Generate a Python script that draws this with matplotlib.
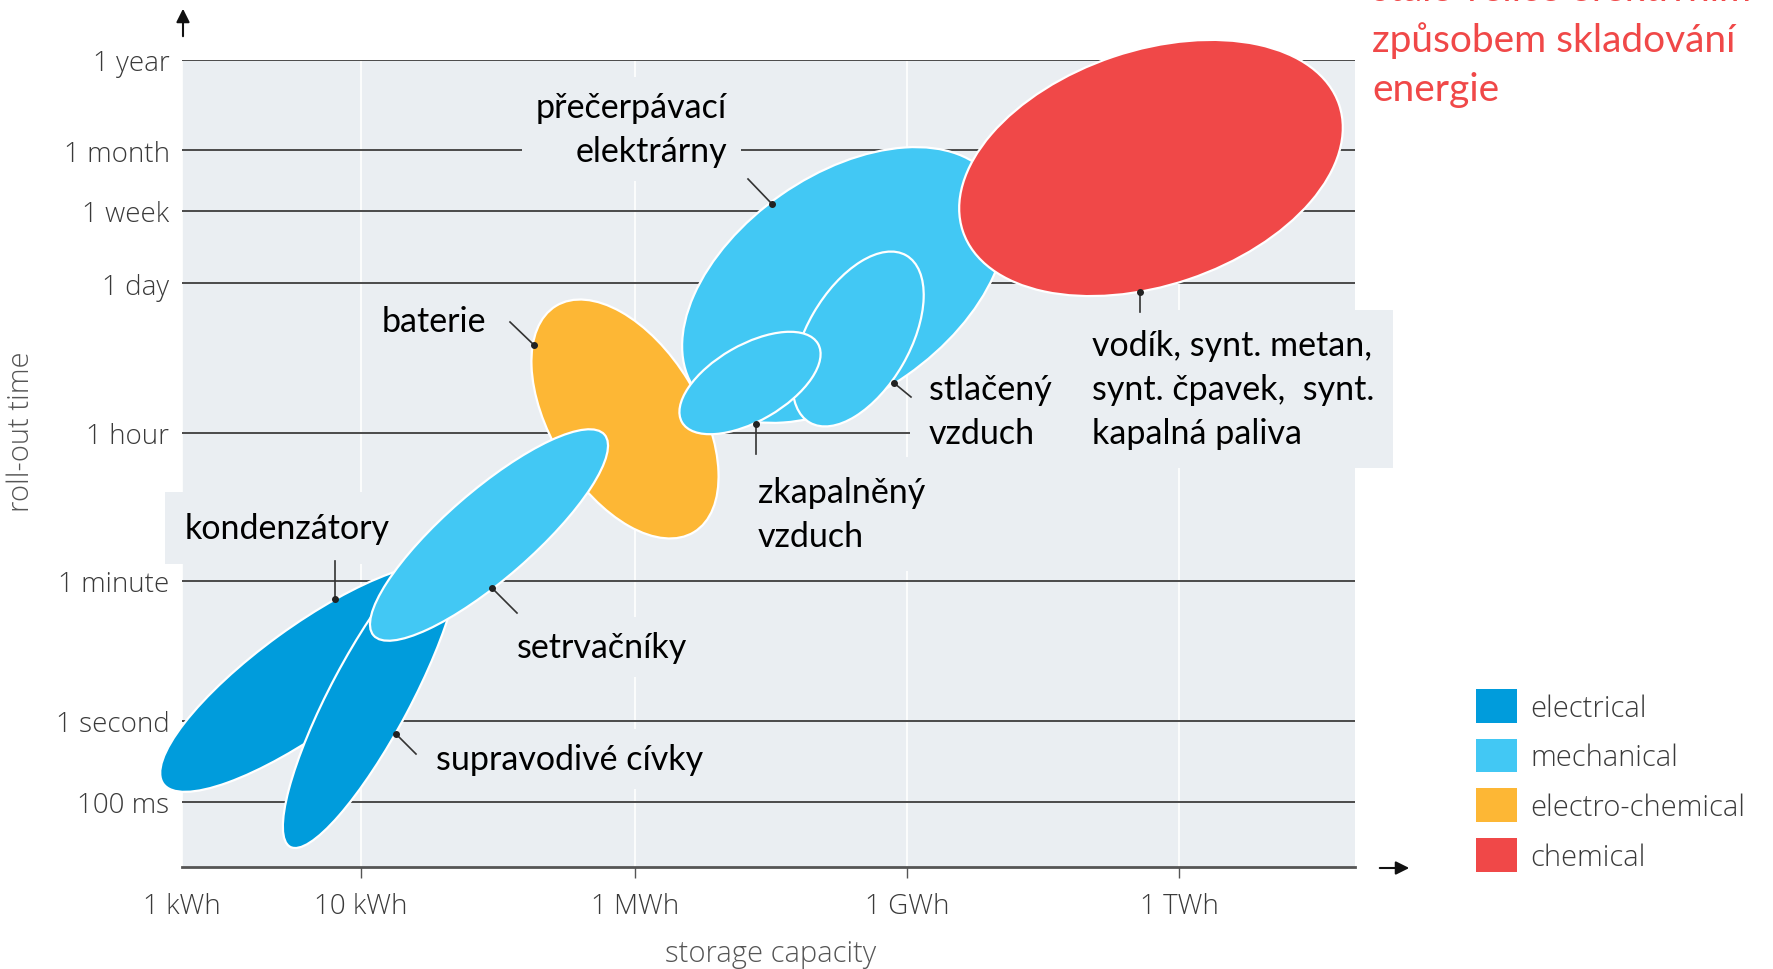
import matplotlib
matplotlib.use("Agg")
import matplotlib.pyplot as plt
from matplotlib.patches import Ellipse, Patch

# --- data ---------------------------------------------------------------
# schematic axes (the original chart is not a true log scale)
x_tick_labels = ['1 kWh', '10 kWh', '1 MWh', '1 GWh', '1 TWh']
x_tick_pos = [0, 179, 453, 725, 997]
y_tick_labels = ['100 ms', '1 second', '1 minute', '1 hour', '1 day', '1 week', '1 month', '1 year']
y_tick_pos = [65, 146, 286, 434, 584, 656, 717, 807]

categories = ['electrical', 'mechanical', 'electro-chemical', 'chemical']
cat_colors = ['#009CDC', '#42C8F4', '#FDB735', '#F04848']

# technologies, in drawing order (centre, extent and tilt in axis units)
tech_names = ['přečerpávací elektrárny', 'vodík', 'baterie', 'stlačený vzduch',
              'zkapalněný vzduch', 'kondenzátory', 'supravodivé cívky', 'setrvačníky']
tech_cat = [1, 3, 2, 1, 1, 0, 0, 1]
tech_x = [662, 969, 443, 676, 568, 127, 189, 307]
tech_y = [582, 699, 448, 528, 484, 189, 172, 332]
tech_w = [364, 397, 265, 193, 157, 360, 344, 306]
tech_h = [220, 235, 148, 103, 76, 104, 80, 88]
tech_angle = [35, 18.6, -58.6, 60, 30, 36, 62, 41]

# callouts: label text, point on the shape, end of leader line, label anchor
labels = ['přečerpávací\nelektrárny', 'vodík, synt. metan,\nsynt. čpavek,  synt.\nkapalná paliva',
          'baterie', 'stlačený \nvzduch', 'zkapalněný\nvzduch', 'kondenzátory',
          'supravodivé cívky', 'setrvačníky']
dot_xy = [(590, 663), (958, 575), (352, 522), (712, 484), (574, 443), (153, 268), (214, 133), (310, 279)]
lead_xy = [(566, 688), (958, 555), (328, 545), (729, 470), (574, 413), (153, 306), (234, 113), (335, 254)]
label_xy = [(545, 738), (910, 478), (200, 546), (747, 456), (576, 353), (3, 339), (254, 108), (335, 220)]

note = 'stále velice efektivním\nzpůsobem skladování\nenergie'

# --- figure ---------------------------------------------------------------
bg = '#EAEEF2'
grey = '#3a3a3a'
label_font = ['Lato', 'DejaVu Sans']
axis_font = ['Open Sans', 'DejaVu Sans']

W, H = 1773, 970
fig = plt.figure(figsize=(W / 100, H / 100), dpi=100)
ax = fig.add_axes([182 / W, (H - 868) / H, 1173 / W, 807 / H])
ax.set_xlim(0, 1173)
ax.set_ylim(0, 807)
ax.set_facecolor(bg)
ax.set_axisbelow(True)

for s in ['top', 'left', 'right']:
    ax.spines[s].set_visible(False)
ax.spines['bottom'].set_color('#555555')
ax.spines['bottom'].set_linewidth(2)

ax.set_xticks(x_tick_pos, x_tick_labels)
ax.set_yticks(y_tick_pos, y_tick_labels)
ax.tick_params(axis='x', length=8, width=1, color='#555555', pad=10, labelsize=20, labelcolor=grey)
ax.tick_params(axis='y', length=0, pad=9, labelsize=20, labelcolor=grey)
ax.xaxis.get_major_ticks()[0].tick1line.set_visible(False)
for t in ax.get_xticklabels() + ax.get_yticklabels():
    t.set_family(axis_font)
    t.set_fontweight('light')

ax.grid(axis='y', color='#4a4a4a', lw=1.4)
ax.grid(axis='x', color='white', lw=1.2)

ax.set_xlabel('storage capacity', fontsize=21, color='#555555', family=axis_font, fontweight='light')
ax.xaxis.set_label_coords(0.502, -0.1066)
ax.xaxis.label.set_va('center')
ax.set_ylabel('roll-out time', fontsize=21, color='#555555', family=axis_font, fontweight='light')
ax.yaxis.set_label_coords(-0.137, 0.54)
ax.yaxis.label.set_va('center')

# technology regions
for i in range(len(tech_names)):
    e = Ellipse((tech_x[i], tech_y[i]), tech_w[i], tech_h[i], angle=tech_angle[i],
                fc=cat_colors[tech_cat[i]], ec='white', lw=1.6, clip_on=False, zorder=2)
    ax.add_patch(e)

# callouts
for txt, (dx, dy), (lx, ly), (tx, ty) in zip(labels, dot_xy, lead_xy, label_xy):
    ax.plot([dx, lx], [dy, ly], color='#333333', lw=1.2, zorder=4, clip_on=False)
    ax.plot(dx, dy, 'o', color='#222222', ms=4, zorder=4, clip_on=False)
    ha = 'right' if txt.startswith('přečerp') else 'left'
    pad = 0.55 if ('\n' in txt and ha == 'left') else 0.4
    if txt == 'kondenzátory':
        pad = 0.6
    ax.text(tx, ty, txt, ha=ha, va='center', multialignment=ha, fontsize=24.5,
            family=label_font, color='black', linespacing=1.47, zorder=1.5,
            bbox=dict(boxstyle='square,pad=%s' % pad, fc=bg, ec='none'), clip_on=False)

# axis arrows
arrow = dict(arrowstyle='-|>', color='#111111', lw=1.5, mutation_scale=20)
ax.annotate('', xy=(183 / W, 1 - 7 / H), xytext=(183 / W, 1 - 40 / H),
            xycoords='figure fraction', textcoords='figure fraction', arrowprops=arrow)
ax.annotate('', xy=(1412 / W, 1 - 869 / H), xytext=(1377 / W, 1 - 869 / H),
            xycoords='figure fraction', textcoords='figure fraction', arrowprops=arrow)

# legend
handles = [Patch(fc=c, ec='none') for c in cat_colors]
leg = fig.legend(handles, categories, loc='upper left', bbox_to_anchor=(1476 / W, 1 - 690 / H),
                 frameon=False, handlelength=1.4, handleheight=1.4,
                 labelspacing=0.55, handletextpad=0.45, borderpad=0, borderaxespad=0,
                 prop={'family': axis_font, 'weight': 'light', 'size': 21})
for t in leg.get_texts():
    t.set_color(grey)

# red note in the top right corner (cut off by the page edge, as in the source slide)
fig.text(1372 / W, 1 - 40 / H, note, ha='left', va='center', fontsize=28,
         family=label_font, color='#F04848', linespacing=1.47)

fig.savefig('out.png', dpi=100, facecolor='white')
